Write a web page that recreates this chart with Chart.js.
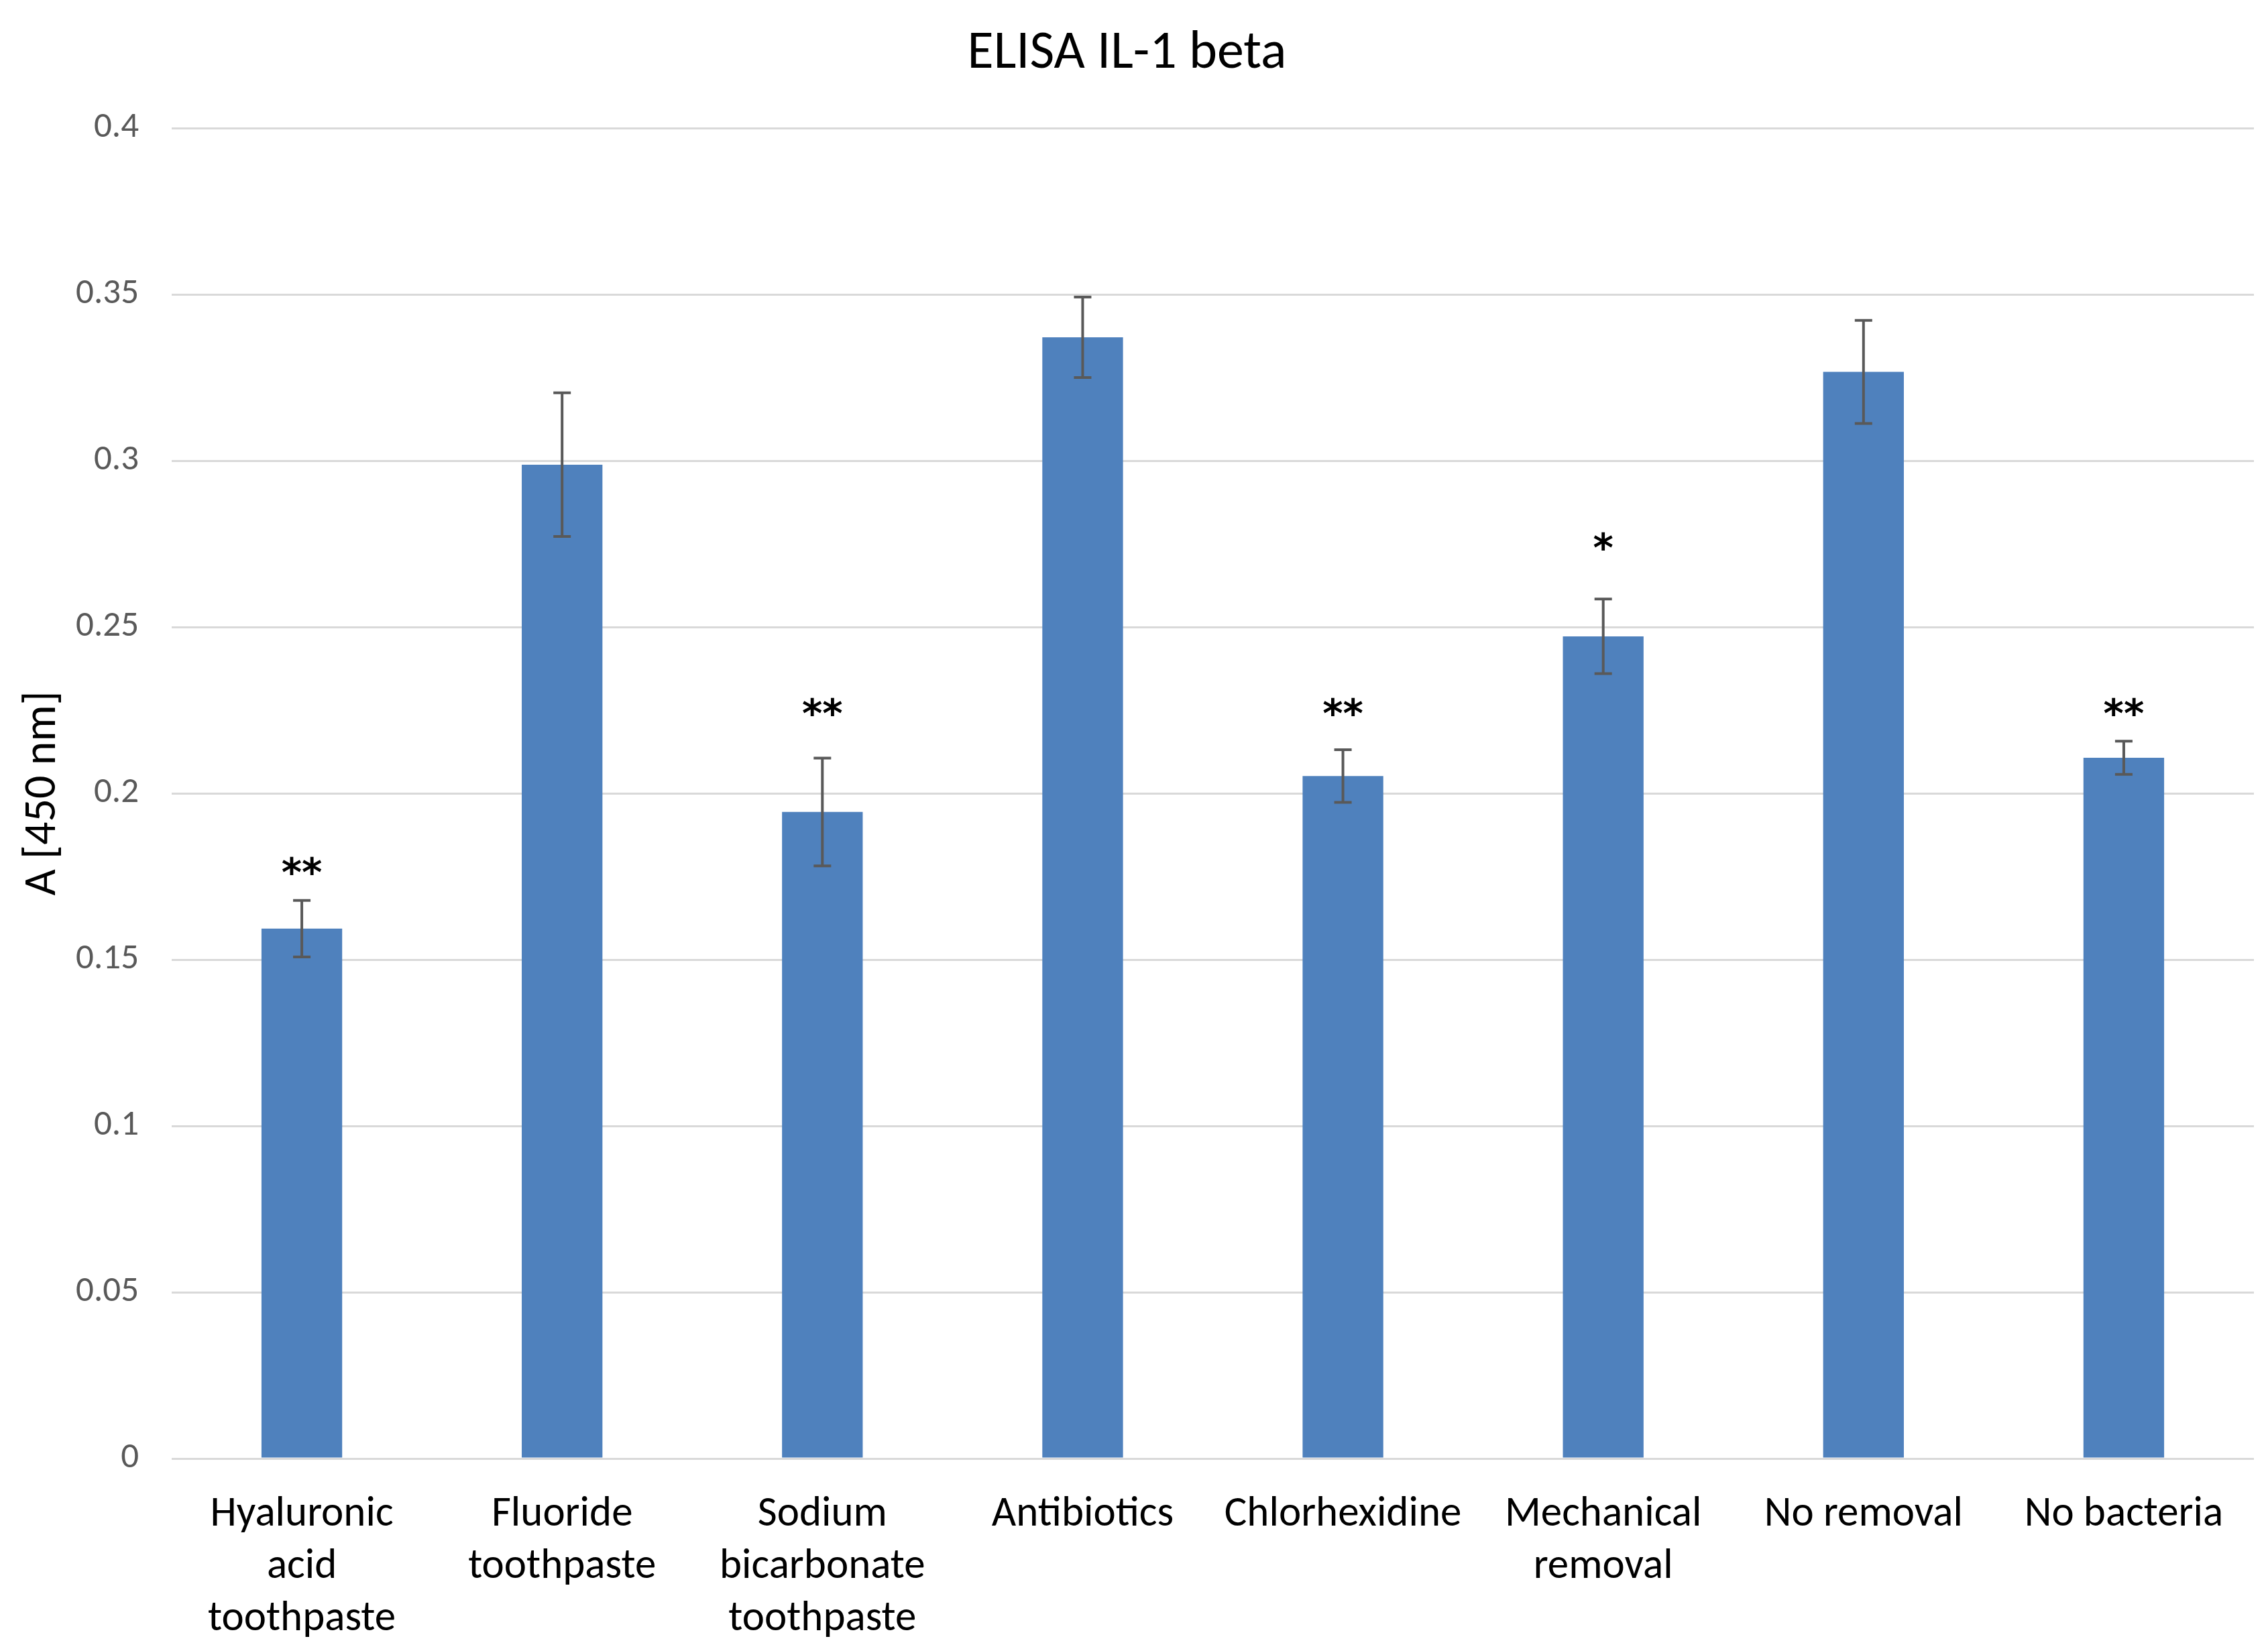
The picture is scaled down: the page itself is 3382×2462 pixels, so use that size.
<!DOCTYPE html>
<html>
<head>
<meta charset="utf-8">
<script src="https://cdn.jsdelivr.net/npm/chart.js@4.4.1/dist/chart.umd.min.js"></script>
<style>
  html, body { margin: 0; padding: 0; background: #ffffff; }
  #wrap { width: 3382px; height: 2462px; }
</style>
</head>
<body>
<div id="wrap"><canvas id="c" width="3382" height="2462"></canvas></div>
<script>
// ---- data ----
const categories = [
  ["Hyaluronic", "acid", "toothpaste"],
  ["Fluoride", "toothpaste"],
  ["Sodium", "bicarbonate", "toothpaste"],
  "Antibiotics",
  "Chlorhexidine",
  ["Mechanical", "removal"],
  "No removal",
  "No bacteria"
];
const meanValues = [0.1593, 0.2988, 0.1944, 0.3371, 0.2052, 0.2472, 0.3267, 0.2107];
const errorValues = [0.0085, 0.0216, 0.0162, 0.0121, 0.0079, 0.0112, 0.0155, 0.0050];
const significance = ["**", "", "**", "", "**", "*", "", "**"];
const significanceLevel = [0.1776, null, 0.2254, null, 0.2254, 0.2752, null, 0.2254];
const yTicks = [0, 0.05, 0.1, 0.15, 0.2, 0.25, 0.3, 0.35, 0.4];
const yTickLabels = ["0", "0.05", "0.1", "0.15", "0.2", "0.25", "0.3", "0.35", "0.4"];
const chartTitle = "ELISA IL-1 beta";
const yAxisTitle = "A [450 nm]";

// ---- styles ----
const FONT = "Carlito, Calibri, Lato, 'Open Sans', sans-serif";
const STAR_FONT = "'DejaVu Sans', sans-serif";
const BAR_COLOR = "#4F81BD";
const ERR_COLOR = "#595959";
const GRID_COLOR = "#D9D9D9";

const whiteBg = {
  id: "whiteBg",
  beforeDraw(chart) {
    const ctx = chart.ctx;
    ctx.save();
    ctx.fillStyle = "#ffffff";
    ctx.fillRect(0, 0, chart.width, chart.height);
    ctx.restore();
  }
};

const errorBars = {
  id: "errorBars",
  afterDatasetsDraw(chart) {
    const ctx = chart.ctx;
    const yScale = chart.scales.y;
    const meta = chart.getDatasetMeta(0);
    ctx.save();
    ctx.strokeStyle = ERR_COLOR;
    ctx.lineWidth = 4;
    ctx.lineCap = "butt";
    meta.data.forEach((bar, i) => {
      const x = bar.x;
      const yT = yScale.getPixelForValue(meanValues[i] + errorValues[i]);
      const yB = yScale.getPixelForValue(meanValues[i] - errorValues[i]);
      const cap = 13;
      ctx.beginPath();
      ctx.moveTo(x, yT); ctx.lineTo(x, yB);
      ctx.moveTo(x - cap, yT); ctx.lineTo(x + cap, yT);
      ctx.moveTo(x - cap, yB); ctx.lineTo(x + cap, yB);
      ctx.stroke();
    });
    // significance marks
    ctx.fillStyle = "#000000";
    ctx.font = "bold 58px " + STAR_FONT;
    ctx.textAlign = "center";
    ctx.textBaseline = "middle";
    meta.data.forEach((bar, i) => {
      if (!significance[i]) return;
      const y = yScale.getPixelForValue(significanceLevel[i]);
      ctx.fillText(significance[i], bar.x, y + 12);
    });
    ctx.restore();
  }
};

new Chart(document.getElementById("c"), {
  type: "bar",
  data: {
    labels: categories,
    datasets: [{
      data: meanValues,
      backgroundColor: BAR_COLOR,
      borderWidth: 0,
      categoryPercentage: 1.0,
      barPercentage: 0.31
    }]
  },
  options: {
    responsive: false,
    animation: false,
    devicePixelRatio: 1,
    layout: { padding: { left: 0, right: 21, top: 0, bottom: 0 } },
    plugins: {
      legend: { display: false },
      tooltip: { enabled: false },
      title: {
        display: true,
        text: chartTitle,
        color: "#000000",
        font: { family: FONT, size: 80, weight: "normal", lineHeight: 1.2 },
        padding: { top: 33, bottom: 62 }
      }
    },
    scales: {
      x: {
        grid: { display: false, drawTicks: false },
        border: { display: false },
        ticks: {
          color: "#000000",
          font: { family: FONT, size: 63, lineHeight: 1.238 },
          padding: 45,
          maxRotation: 0,
          minRotation: 0,
          autoSkip: false
        },
        afterFit(scale) { scale.height = 287; }
      },
      y: {
        min: 0,
        max: 0.4,
        afterBuildTicks(scale) { scale.ticks = yTicks.map(v => ({ value: v })); },
        grid: { color: GRID_COLOR, lineWidth: 3, drawTicks: false },
        border: { display: false },
        ticks: {
          color: "#595959",
          font: { family: FONT, size: 53 },
          padding: 49,
          callback(value, index) { return yTickLabels[index]; }
        },
        title: {
          display: true,
          text: yAxisTitle,
          color: "#000000",
          font: { family: FONT, size: 68, lineHeight: 1.2 },
          padding: { top: 24, bottom: 0 }
        },
        afterFit(scale) { scale.width = 256; }
      }
    }
  },
  plugins: [whiteBg, errorBars]
});
</script>
</body>
</html>
